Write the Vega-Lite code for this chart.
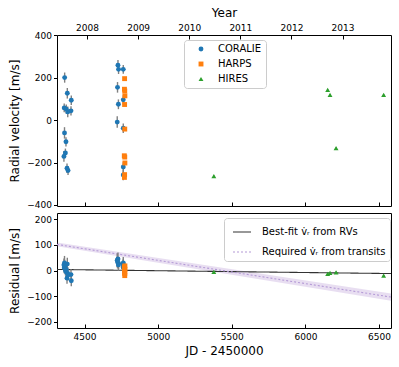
{
  "$schema": "https://vega.github.io/schema/vega-lite/v6.json",
  "padding": {"left": 8, "top": 5, "right": 9, "bottom": 5},
  "config": {
    "font": "DejaVu Sans",
    "view": {"stroke": "#000", "strokeWidth": 1},
    "axis": {"grid": false, "domain": false, "labelFontSize": 9, "titleFontSize": 12, "titleFontWeight": "normal", "labelColor": "#000", "titleColor": "#000", "tickColor": "#000", "tickSize": 3.5, "labelPadding": 2, "titlePadding": 5, "labelFont": "DejaVu Sans", "titleFont": "DejaVu Sans"},
    "legend": {"labelFont": "DejaVu Sans", "labelFontSize": 10, "labelColor": "#000"}
  },
  "datasets": {
    "rv": [
      {"inst": "CORALIE", "jd": 4365, "rv": 201, "err": 24, "res": 18},
      {"inst": "CORALIE", "jd": 4383, "rv": 127, "err": 25, "res": 25},
      {"inst": "CORALIE", "jd": 4410, "rv": 94, "err": 22, "res": -40},
      {"inst": "CORALIE", "jd": 4362, "rv": 58, "err": 21, "res": 10},
      {"inst": "CORALIE", "jd": 4376, "rv": 52, "err": 22, "res": 4},
      {"inst": "CORALIE", "jd": 4386, "rv": 39, "err": 25, "res": -12},
      {"inst": "CORALIE", "jd": 4408, "rv": 44, "err": 22, "res": -16},
      {"inst": "CORALIE", "jd": 4364, "rv": -60, "err": 27, "res": 30},
      {"inst": "CORALIE", "jd": 4374, "rv": -102, "err": 22, "res": -5},
      {"inst": "CORALIE", "jd": 4370, "rv": -155, "err": 21, "res": 2},
      {"inst": "CORALIE", "jd": 4360, "rv": -171, "err": 25, "res": 22},
      {"inst": "CORALIE", "jd": 4381, "rv": -227, "err": 22, "res": -30},
      {"inst": "CORALIE", "jd": 4388, "rv": -238, "err": 21, "res": -18},
      {"inst": "CORALIE", "jd": 4727, "rv": 259, "err": 25, "res": 45},
      {"inst": "CORALIE", "jd": 4731, "rv": 240, "err": 22, "res": 28},
      {"inst": "CORALIE", "jd": 4763, "rv": 240, "err": 21, "res": 25},
      {"inst": "CORALIE", "jd": 4724, "rv": 155, "err": 25, "res": 33},
      {"inst": "CORALIE", "jd": 4763, "rv": 96, "err": 22, "res": 18},
      {"inst": "CORALIE", "jd": 4730, "rv": 75, "err": 23, "res": 22},
      {"inst": "CORALIE", "jd": 4722, "rv": -9, "err": 27, "res": 40},
      {"inst": "CORALIE", "jd": 4763, "rv": -38, "err": 22, "res": 12},
      {"inst": "CORALIE", "jd": 4763, "rv": -221, "err": 23, "res": 30},
      {"inst": "CORALIE", "jd": 4763, "rv": -259, "err": 25, "res": 15},
      {"inst": "HARPS", "jd": 4772, "rv": 196, "err": 6, "res": 15},
      {"inst": "HARPS", "jd": 4771, "rv": 146, "err": 6, "res": 8},
      {"inst": "HARPS", "jd": 4773, "rv": 138, "err": 6, "res": -5},
      {"inst": "HARPS", "jd": 4774, "rv": 115, "err": 6, "res": 18},
      {"inst": "HARPS", "jd": 4772, "rv": 74, "err": 6, "res": 2},
      {"inst": "HARPS", "jd": 4773, "rv": -42, "err": 6, "res": -12},
      {"inst": "HARPS", "jd": 4770, "rv": -168, "err": 6, "res": 10},
      {"inst": "HARPS", "jd": 4773, "rv": -174, "err": 6, "res": -20},
      {"inst": "HARPS", "jd": 4774, "rv": -202, "err": 6, "res": 5},
      {"inst": "HARPS", "jd": 4772, "rv": -257, "err": 6, "res": -8},
      {"inst": "HARPS", "jd": 4771, "rv": -270, "err": 6, "res": 12},
      {"inst": "HIRES", "jd": 5378, "rv": -264, "err": 3, "res": -5},
      {"inst": "HIRES", "jd": 6151, "rv": 143, "err": 3, "res": -13},
      {"inst": "HIRES", "jd": 6167, "rv": 119, "err": 3, "res": -9},
      {"inst": "HIRES", "jd": 6208, "rv": -132, "err": 3, "res": -7},
      {"inst": "HIRES", "jd": 6531, "rv": 119, "err": 3, "res": -20}
    ],
    "lines": [
      {"series": "Best-fit v̇ᵣ from RVs", "jd": 4313, "c": 4},
      {"series": "Best-fit v̇ᵣ from RVs", "jd": 6581, "c": -12},
      {"series": "Required v̇ᵣ from transits", "jd": 4313, "c": 102},
      {"series": "Required v̇ᵣ from transits", "jd": 6581, "c": -104}
    ],
    "band": [
      {"jd": 4313, "lo": 95, "hi": 110},
      {"jd": 6581, "lo": -118, "hi": -90}
    ]
  },
  "bounds": "flush",
  "spacing": 7,
  "resolve": {"scale": {"color": "independent", "shape": "independent", "stroke": "independent", "strokeDash": "independent"}},
  "vconcat": [
    {
      "width": 334,
      "height": 171,
      "resolve": {"axis": {"x": "independent"}},
      "layer": [
        {
          "data": {"name": "rv"},
          "mark": {"type": "errorbar", "color": "#808080", "thickness": 1.4},
          "encoding": {
            "x": {"field": "jd", "type": "quantitative", "scale": {"domain": [4313, 6581], "nice": false, "zero": false},
              "axis": {"orient": "bottom", "values": [4500, 5000, 5500, 6000, 6500], "labels": false, "tickSize": -4, "title": null}},
            "y": {"field": "rv", "type": "quantitative", "scale": {"domain": [-405, 402], "nice": false, "zero": false},
              "axis": {"values": [-400, -200, 0, 200, 400], "title": "Radial velocity [m/s]"}},
            "yError": {"field": "err"}
          }
        },
        {
          "data": {"name": "rv"},
          "mark": {"type": "point", "filled": true, "opacity": 1, "size": 24},
          "encoding": {
            "x": {"field": "jd", "type": "quantitative",
              "axis": {"orient": "top", "values": [4517, 4864, 5211, 5558, 5905, 6252], "labelExpr": "'' + (2008 + round((datum.value - 4517) / 347))", "tickSize": -4, "labelPadding": 7, "title": "Year", "titlePadding": 4}},
            "y": {"field": "rv", "type": "quantitative",
              "axis": {"values": [-400, -200, 0, 200, 400], "title": "Radial velocity [m/s]"}},
            "color": {"field": "inst", "type": "nominal", "scale": {"domain": ["CORALIE", "HARPS", "HIRES"], "range": ["#1f77b4", "#ff7f0e", "#2ca02c"]},
              "legend": {"title": null, "orient": "none", "legendX": 127, "legendY": 5, "strokeColor": "#cccccc", "fillColor": "#ffffff", "cornerRadius": 3, "padding": 4, "rowPadding": 5, "symbolOffset": 8, "labelOffset": 12, "symbolSize": 24}},
            "shape": {"field": "inst", "type": "nominal", "scale": {"domain": ["CORALIE", "HARPS", "HIRES"], "range": ["circle", "square", "triangle-up"]},
              "legend": {"title": null, "orient": "none", "legendX": 127, "legendY": 5, "strokeColor": "#cccccc", "fillColor": "#ffffff", "cornerRadius": 3, "padding": 4, "rowPadding": 5, "symbolOffset": 8, "labelOffset": 12, "symbolSize": 24}}
          }
        }
      ]
    },
    {
      "width": 334,
      "height": 115,
      "layer": [
        {
          "data": {"name": "band"},
          "mark": {"type": "area", "color": "#9467bd", "opacity": 0.22},
          "encoding": {
            "x": {"field": "jd", "type": "quantitative", "scale": {"domain": [4313, 6581], "nice": false, "zero": false},
              "axis": {"values": [4500, 5000, 5500, 6000, 6500], "format": "d", "tickSize": -4, "labelPadding": 8, "title": "JD - 2450000", "titlePadding": 4}},
            "y": {"field": "lo", "type": "quantitative", "scale": {"domain": [-225, 225], "nice": false, "zero": false},
              "axis": {"values": [-200, -100, 0, 100, 200], "title": "Residual [m/s]"}},
            "y2": {"field": "hi"}
          }
        },
        {
          "data": {"name": "lines"},
          "mark": {"type": "line", "strokeWidth": 1.1},
          "encoding": {
            "x": {"field": "jd", "type": "quantitative", "axis": {"values": [4500, 5000, 5500, 6000, 6500], "format": "d", "tickSize": -4, "labelPadding": 8, "title": "JD - 2450000", "titlePadding": 4}},
            "y": {"field": "c", "type": "quantitative", "axis": {"values": [-200, -100, 0, 100, 200], "title": "Residual [m/s]"}},
            "stroke": {"field": "series", "type": "nominal", "scale": {"domain": ["Best-fit v̇ᵣ from RVs", "Required v̇ᵣ from transits"], "range": ["#333333", "#b49ad6"]},
              "legend": {"title": null, "orient": "none", "legendX": 167, "legendY": 5, "strokeColor": "#cccccc", "fillColor": "#ffffff", "cornerRadius": 3, "padding": 4, "rowPadding": 5, "symbolOffset": 4, "labelOffset": 10, "symbolType": "stroke", "symbolSize": 324, "symbolStrokeWidth": 1.1}},
            "strokeDash": {"field": "series", "type": "nominal", "scale": {"domain": ["Best-fit v̇ᵣ from RVs", "Required v̇ᵣ from transits"], "range": [[1, 0], [2, 2]]},
              "legend": {"title": null, "orient": "none", "legendX": 167, "legendY": 5, "strokeColor": "#cccccc", "fillColor": "#ffffff", "cornerRadius": 3, "padding": 4, "rowPadding": 5, "symbolOffset": 4, "labelOffset": 10, "symbolType": "stroke", "symbolSize": 324, "symbolStrokeWidth": 1.1}}
          }
        },
        {
          "data": {"name": "rv"},
          "mark": {"type": "errorbar", "color": "#808080", "thickness": 1.4},
          "encoding": {
            "x": {"field": "jd", "type": "quantitative", "axis": {"values": [4500, 5000, 5500, 6000, 6500], "format": "d", "tickSize": -4, "labelPadding": 8, "title": "JD - 2450000", "titlePadding": 4}},
            "y": {"field": "res", "type": "quantitative", "axis": {"values": [-200, -100, 0, 100, 200], "title": "Residual [m/s]"}},
            "yError": {"field": "err"}
          }
        },
        {
          "data": {"name": "rv"},
          "mark": {"type": "point", "filled": true, "opacity": 1, "size": 24},
          "encoding": {
            "x": {"field": "jd", "type": "quantitative", "axis": {"values": [4500, 5000, 5500, 6000, 6500], "format": "d", "tickSize": -4, "labelPadding": 8, "title": "JD - 2450000", "titlePadding": 4}},
            "y": {"field": "res", "type": "quantitative", "axis": {"values": [-200, -100, 0, 100, 200], "title": "Residual [m/s]"}},
            "color": {"field": "inst", "type": "nominal", "scale": {"domain": ["CORALIE", "HARPS", "HIRES"], "range": ["#1f77b4", "#ff7f0e", "#2ca02c"]}, "legend": null},
            "shape": {"field": "inst", "type": "nominal", "scale": {"domain": ["CORALIE", "HARPS", "HIRES"], "range": ["circle", "square", "triangle-up"]}, "legend": null}
          }
        }
      ]
    }
  ]
}
